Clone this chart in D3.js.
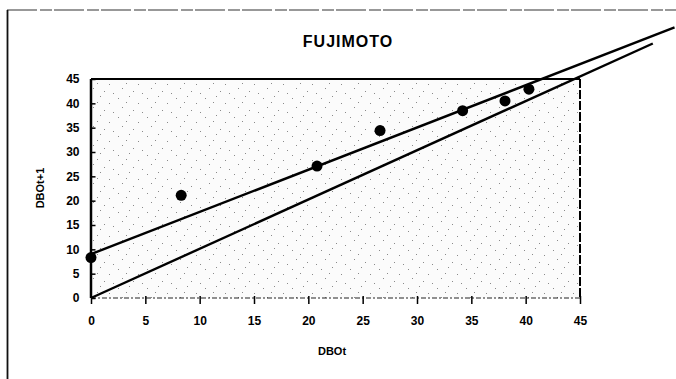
<!DOCTYPE html>
<html>
<head>
<meta charset="utf-8">
<script src="https://cdn.jsdelivr.net/npm/d3@7"></script>
<style>
  body { margin: 0; background: #fff; }
  svg { display: block; font-family: "Liberation Sans", Arial, sans-serif; }
</style>
</head>
<body>
<div id="viz-container"></div>
<script>
// observed values, DBOt vs DBOt+1
let dboT  = [0, 8.3, 20.8, 26.6, 34.2, 38.1, 40.3];
let dboT1 = [8.3, 21.1, 27.1, 34.4, 38.5, 40.5, 42.9];

// fitted line and the 1:1 line (end points)
let fitX = [0, 53.7];
let fitY = [9, 55.6];
let idX = [0, 51.7];
let idY = [0, 52.3];

let ticks = [0, 5, 10, 15, 20, 25, 30, 35, 40, 45];

let W = 676, H = 379;
let plotL = 91, plotR = 580, plotT = 79, plotB = 298;

let viz = d3.select("#viz-container")
  .append("svg")
    .attr("width", W)
    .attr("height", H)
;

let x = d3.scaleLinear().domain([0, 45]).range([plotL, plotR]);
let y = d3.scaleLinear().domain([0, 45]).range([plotB, plotT]);

// stipple texture for the plot area (sparse dots)
let defs = viz.append("defs");
let pat = defs.append("pattern")
  .attr("id", "stip")
  .attr("patternUnits", "userSpaceOnUse")
  .attr("width", 29)
  .attr("height", 19)
;
pat.append("rect").attr("width", 29).attr("height", 19).attr("fill", "#fbfbfb");
[[2,3],[13,1],[22,8],[6,12],[17,15],[26,17],[10,7]].forEach(function(p){
  pat.append("rect")
    .attr("x", p[0]).attr("y", p[1])
    .attr("width", 1).attr("height", 1)
    .attr("fill", "#8a8a8a");
});

// outer chart frame (cut off at right and bottom)
viz.append("line")
  .attr("x1", 7).attr("y1", 10).attr("x2", W).attr("y2", 10)
  .attr("stroke", "#333").attr("stroke-width", 1.2)
  .attr("stroke-dasharray", "30,3,12,2");
viz.append("line")
  .attr("x1", 7.5).attr("y1", 10).attr("x2", 7.5).attr("y2", H)
  .attr("stroke", "#111").attr("stroke-width", 1.8);

// plot area
viz.append("rect")
  .attr("x", plotL).attr("y", plotT)
  .attr("width", plotR - plotL).attr("height", plotB - plotT)
  .attr("fill", "url(#stip)");

viz.append("line")
  .attr("x1", plotL).attr("y1", plotT).attr("x2", plotR).attr("y2", plotT)
  .attr("stroke", "#000").attr("stroke-width", 2.2);
viz.append("line")
  .attr("x1", plotR).attr("y1", plotT).attr("x2", plotR).attr("y2", plotB)
  .attr("stroke", "#000").attr("stroke-width", 2)
  .attr("stroke-dasharray", "9,2");
viz.append("line")
  .attr("x1", plotL).attr("y1", plotB).attr("x2", plotR).attr("y2", plotB)
  .attr("stroke", "#222").attr("stroke-width", 1)
  .attr("stroke-dasharray", "5,2,2,2");
viz.append("line")
  .attr("x1", plotL).attr("y1", plotT).attr("x2", plotL).attr("y2", plotB)
  .attr("stroke", "#000").attr("stroke-width", 2.5);

// axes
let xAxis = d3.axisBottom(x).tickValues(ticks).tickSize(4).tickPadding(12);
let yAxis = d3.axisLeft(y).tickValues(ticks).tickSize(3).tickPadding(10);

let gx = viz.append("g")
  .attr("transform", "translate(0," + (plotB + 2) + ")")
  .call(xAxis);
let gy = viz.append("g")
  .attr("transform", "translate(" + (plotL + 1.5) + ",0)")
  .call(yAxis);

[gx, gy].forEach(function(g){
  g.select(".domain").remove();
  g.selectAll(".tick line").attr("stroke", "#000").attr("stroke-width", 1.5);
  g.selectAll(".tick text")
    .attr("font-family", "Liberation Sans, Arial, sans-serif")
    .attr("font-size", 12)
    .attr("font-weight", "bold")
    .attr("fill", "#000");
});
gx.selectAll(".tick line").attr("y1", -4);
gy.selectAll(".tick line").attr("x2", 3).attr("x1", -1);

// lines
let line = d3.line().x(function(d){ return x(d[0]); }).y(function(d){ return y(d[1]); });

viz.append("path")
  .datum(idX.map(function(v, i){ return [v, idY[i]]; }))
  .attr("d", line)
  .attr("fill", "none")
  .attr("stroke", "#000")
  .attr("stroke-width", 2.4);

viz.append("path")
  .datum(fitX.map(function(v, i){ return [v, fitY[i]]; }))
  .attr("d", line)
  .attr("fill", "none")
  .attr("stroke", "#000")
  .attr("stroke-width", 2.4);

// observed points
viz.selectAll(".pt").data(dboT).enter()
  .append("circle")
    .attr("class", "pt")
    .attr("cx", function(d){ return x(d); })
    .attr("cy", function(d, i){ return y(dboT1[i]); })
    .attr("r", 5.5)
    .attr("fill", "#000")
;

// texts
viz.append("text")
  .text("FUJIMOTO")
  .attr("x", 348)
  .attr("y", 47)
  .attr("text-anchor", "middle")
  .attr("font-size", 16)
  .attr("font-weight", "bold")
  .attr("letter-spacing", 1);

viz.append("text")
  .text("DBOt")
  .attr("x", 332)
  .attr("y", 355)
  .attr("text-anchor", "middle")
  .attr("font-size", 11)
  .attr("font-weight", "bold");

viz.append("text")
  .text("DBOt+1")
  .attr("transform", "translate(44,188) rotate(-90)")
  .attr("text-anchor", "middle")
  .attr("font-size", 11)
  .attr("font-weight", "bold");
</script>
</body>
</html>
